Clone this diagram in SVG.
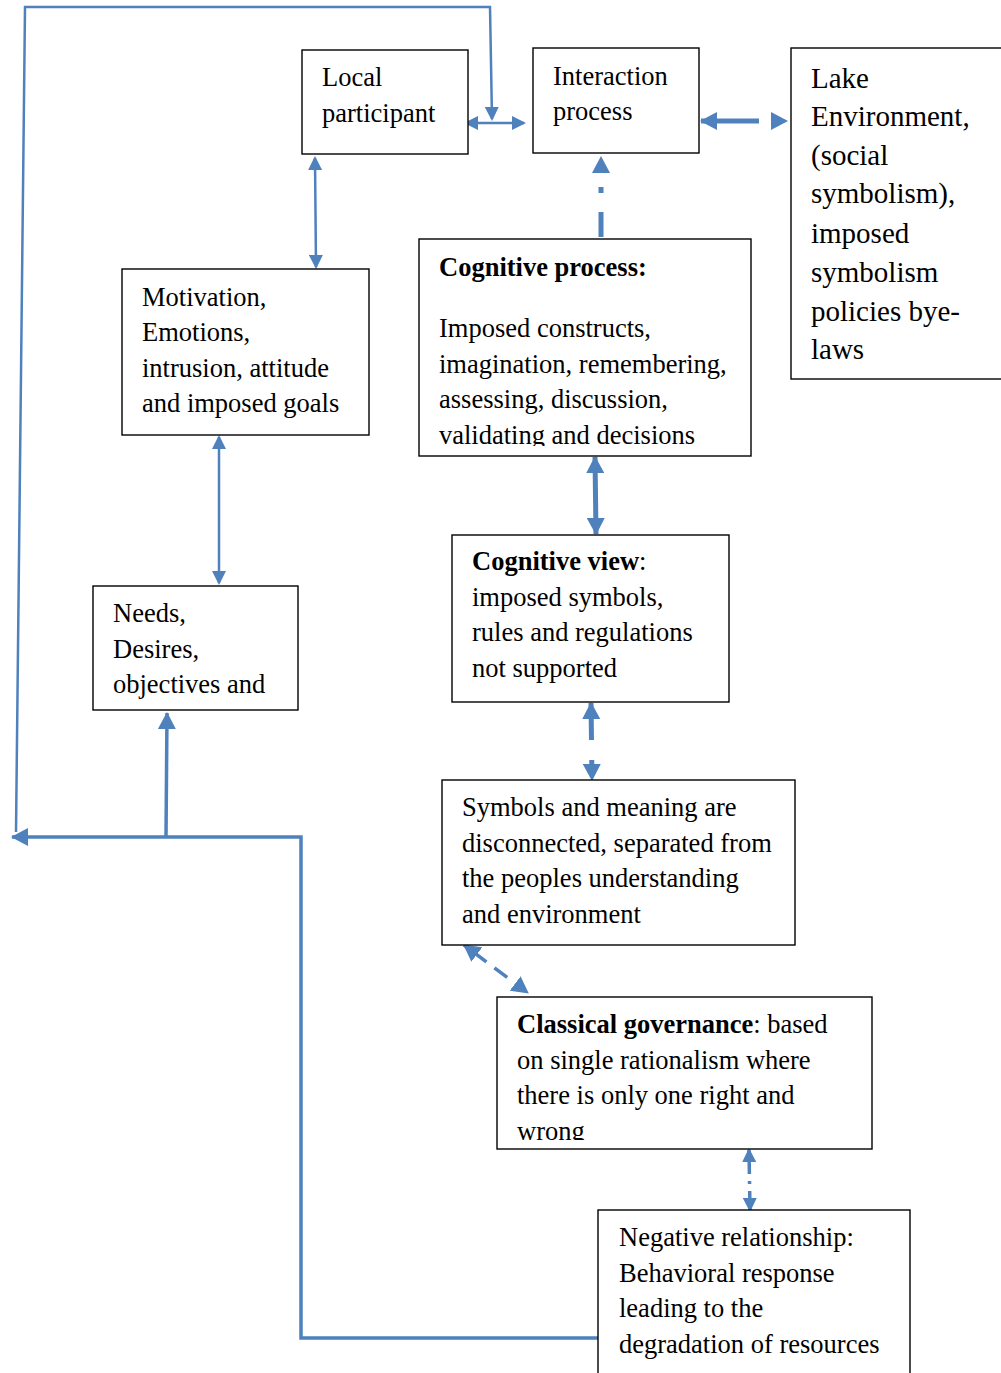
<svg xmlns="http://www.w3.org/2000/svg" width="1001" height="1373" viewBox="0 0 1001 1373">
<style>
.box{fill:#fff;stroke:#000;stroke-width:1.4}
.t{font-family:"Liberation Serif","Times New Roman",serif;font-size:26.5px;fill:#000}
.tl{font-family:"Liberation Serif","Times New Roman",serif;font-size:29px;fill:#000}
.b{font-weight:bold}
.c{fill:none;stroke:#4F81BD;stroke-linejoin:miter}
.thin{stroke-width:2.5}
.mid{stroke-width:3.5}
.thick{stroke-width:5}
</style>
<defs>
<marker id="a" markerUnits="userSpaceOnUse" markerWidth="14" markerHeight="14" refX="12" refY="7" orient="auto-start-reverse"><path d="M0,0 L14,7 L0,14 z" fill="#4F81BD"/></marker>
<marker id="A" markerUnits="userSpaceOnUse" markerWidth="18" markerHeight="18" refX="16" refY="9" orient="auto-start-reverse"><path d="M0,0 L17,9 L0,18 z" fill="#4F81BD"/></marker>
<clipPath id="cp1"><rect x="419" y="239" width="333" height="207"/></clipPath>
<clipPath id="cp2"><rect x="497" y="997" width="376" height="143"/></clipPath>
</defs>
<rect width="1001" height="1373" fill="#fff"/>
<g id="connectors">
<path class="c mid" d="M598,1338 L301,1338 L301,837 L12,837" marker-end="url(#A)"/>
<path class="c mid" d="M166,837 L167,713" marker-end="url(#A)"/>
<path class="c thin" d="M16,832 L25,7 L490,7 L492,119" marker-end="url(#a)"/>
<path class="c thin" d="M466,123 L524,123" marker-start="url(#a)" marker-end="url(#a)"/>
<path class="c thick" d="M701,121 L787,121" stroke-dasharray="58 100" marker-start="url(#A)" marker-end="url(#A)"/>
<path class="c thick" d="M601,237 L601,157" stroke-dasharray="25 19 6 40" marker-end="url(#A)"/>
<path class="c thin" d="M315,158 L316,267" marker-start="url(#a)" marker-end="url(#a)"/>
<path class="c thin" d="M219,437 L219,583" marker-start="url(#a)" marker-end="url(#a)"/>
<path class="c thick" d="M595,457 L596,534" marker-start="url(#A)" marker-end="url(#A)"/>
<path class="c thick" d="M591,703 L592,780" stroke-dasharray="37 20 6 50" marker-start="url(#A)" marker-end="url(#A)"/>
<path class="c mid" d="M464,945 L528,993" stroke-dasharray="28 10 16 40" marker-start="url(#A)" marker-end="url(#A)"/>
<path class="c mid" d="M749,1150 L750,1210" stroke-dasharray="24 7 3 7 40" marker-start="url(#a)" marker-end="url(#a)"/>
</g>
<g id="local">
<rect class="box" x="302" y="50" width="166" height="104"/>
<text class="t" x="322" y="86">Local</text>
<text class="t" x="322" y="122">participant</text>
</g>
<g id="interaction">
<rect class="box" x="533" y="48" width="166" height="105"/>
<text class="t" x="553" y="85">Interaction</text>
<text class="t" x="553" y="120">process</text>
</g>
<g id="lake">
<rect class="box" x="791" y="48" width="215" height="331"/>
<text class="tl" x="811" y="88">Lake</text>
<text class="tl" x="811" y="126">Environment,</text>
<text class="tl" x="811" y="165">(social</text>
<text class="tl" x="811" y="203">symbolism),</text>
<text class="tl" x="811" y="243">imposed</text>
<text class="tl" x="811" y="282">symbolism</text>
<text class="tl" x="811" y="321">policies bye-</text>
<text class="tl" x="811" y="359">laws</text>
</g>
<g id="motivation">
<rect class="box" x="122" y="269" width="247" height="166"/>
<text class="t" x="142" y="306">Motivation,</text>
<text class="t" x="142" y="341">Emotions,</text>
<text class="t" x="142" y="377">intrusion, attitude</text>
<text class="t" x="142" y="412">and imposed goals</text>
</g>
<g id="cognitive-process">
<rect class="box" x="419" y="239" width="332" height="217"/>
<g clip-path="url(#cp1)">
<text class="t b" x="439" y="276">Cognitive process:</text>
<text class="t" x="439" y="337">Imposed constructs,</text>
<text class="t" x="439" y="373">imagination, remembering,</text>
<text class="t" x="439" y="408">assessing, discussion,</text>
<text class="t" x="439" y="444">validating and decisions</text>
</g>
</g>
<g id="needs">
<rect class="box" x="93" y="586" width="205" height="124"/>
<text class="t" x="113" y="622">Needs,</text>
<text class="t" x="113" y="658">Desires,</text>
<text class="t" x="113" y="693">objectives and</text>
</g>
<g id="cognitive-view">
<rect class="box" x="452" y="535" width="277" height="167"/>
<text class="t" x="472" y="570"><tspan class="b">Cognitive view</tspan>:</text>
<text class="t" x="472" y="606">imposed symbols,</text>
<text class="t" x="472" y="641">rules and regulations</text>
<text class="t" x="472" y="677">not supported</text>
</g>
<g id="symbols">
<rect class="box" x="442" y="780" width="353" height="165"/>
<text class="t" x="462" y="816">Symbols and meaning are</text>
<text class="t" x="462" y="852">disconnected, separated from</text>
<text class="t" x="462" y="887">the peoples understanding</text>
<text class="t" x="462" y="923">and environment</text>
</g>
<g id="classical">
<rect class="box" x="497" y="997" width="375" height="152"/>
<g clip-path="url(#cp2)">
<text class="t" x="517" y="1033"><tspan class="b">Classical governance</tspan>: based</text>
<text class="t" x="517" y="1069">on single rationalism where</text>
<text class="t" x="517" y="1104">there is only one right and</text>
<text class="t" x="517" y="1140">wrong</text>
</g>
</g>
<g id="negative">
<rect class="box" x="598" y="1210" width="312" height="170"/>
<text class="t" x="619" y="1246">Negative relationship:</text>
<text class="t" x="619" y="1282">Behavioral response</text>
<text class="t" x="619" y="1317">leading to the</text>
<text class="t" x="619" y="1353">degradation of resources</text>
</g>
</svg>
